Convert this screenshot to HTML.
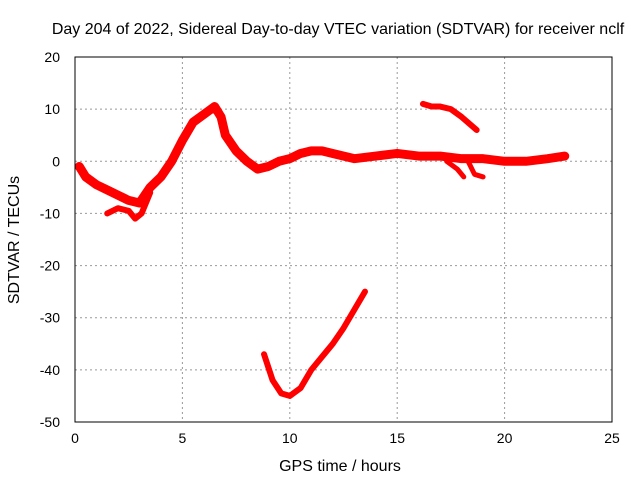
<!DOCTYPE html>
<html><head><meta charset="utf-8"><style>
body{margin:0;background:#fff}
svg{display:block;font-family:"Liberation Sans",sans-serif}
</style></head><body>
<svg id="c" width="640" height="480">
<text x="338" y="34" text-anchor="middle" font-size="16">Day 204 of 2022, Sidereal Day-to-day VTEC variation (SDTVAR) for receiver nclf</text>
<text x="340" y="471" text-anchor="middle" font-size="16">GPS time / hours</text>
<text x="19" y="240" text-anchor="middle" font-size="16" transform="rotate(-90 19 240)">SDTVAR / TECUs</text>
<g id="grid"></g><g id="data"></g>
<rect x="75" y="57" width="537" height="365" fill="none" stroke="#000"/>
</svg>
<script>
const xTicks=[0,5,10,15,20,25];
const yTicks=[20,10,0,-10,-20,-30,-40,-50];
const mainH=[0.2,0.5,1,1.5,2,2.5,3,3.5,4,4.5,5,5.5,6,6.5,6.8,7,7.5,8,8.5,9,9.5,10,10.5,11,11.5,12,13,14,15,16,17,18,19,20,21,22,22.8];
const mainV=[-1,-3,-4.5,-5.5,-6.5,-7.5,-8,-5,-3,0,4,7.5,9,10.5,8.5,5,2,0,-1.5,-1,0,0.5,1.5,2,2,1.5,0.5,1,1.5,1,1,0.5,0.5,0,0,0.5,1];
const lowH=[1.5,2,2.5,2.8,3.1,3.5];
const lowV=[-10,-9,-9.5,-11,-10,-6];
const br1H=[17.3,17.8,18.1];const br1V=[0,-1.5,-3];
const br2H=[18.3,18.6,19];const br2V=[0,-2.5,-3];
const topH=[16.2,16.6,17,17.5,18,18.7];const topV=[11,10.5,10.5,10,8.5,6];
const botH=[8.8,9,9.2,9.6,10,10.5,11,11.5,12,12.5,13,13.5];
const botV=[-37,-39.5,-42,-44.5,-45,-43.5,-40,-37.5,-35,-32,-28.5,-25];
const X=h=>75+h*537/25, Y=v=>57+(20-v)*365/70;
const ns="http://www.w3.org/2000/svg";
const g=document.getElementById('grid'),d=document.getElementById('data');
xTicks.forEach(t=>{
 const l=document.createElementNS(ns,'line');
 
 
 l.setAttribute('x1',X(t));l.setAttribute('x2',X(t));l.setAttribute('y1',57);l.setAttribute('y2',422);
 l.setAttribute('stroke','#999');l.setAttribute('stroke-dasharray','2,3');g.appendChild(l);
 const s=document.createElementNS(ns,'text');
 
 
 s.setAttribute('x',X(t));s.setAttribute('y',443);s.setAttribute('text-anchor','middle');s.setAttribute('font-size','14');s.textContent=t;g.appendChild(s);
});
yTicks.forEach(t=>{
 const l=document.createElementNS(ns,'line');
 
 
 l.setAttribute('x1',75);l.setAttribute('x2',612);l.setAttribute('y1',Y(t));l.setAttribute('y2',Y(t));
 l.setAttribute('stroke','#999');l.setAttribute('stroke-dasharray','2,3');g.appendChild(l);
 const s=document.createElementNS(ns,'text');
 
 
 s.setAttribute('x',60);s.setAttribute('y',Y(t)+5);s.setAttribute('text-anchor','end');s.setAttribute('font-size','14');s.textContent=t;g.appendChild(s);
});
function series(H,V,w,name){
 const p=document.createElementNS(ns,'polyline');
 
 
 p.setAttribute('points',H.map((h,i)=>X(h)+','+Y(V[i])).join(' '));
 p.setAttribute('fill','none');p.setAttribute('stroke','#f00');p.setAttribute('stroke-width',w);
 p.setAttribute('stroke-linejoin','round');p.setAttribute('stroke-linecap','round');d.appendChild(p);
}
series(mainH,mainV,9,'main-series');
series(lowH,lowV,6,'low-branch-series');
series(br1H,br1V,5,'branch-series-1');
series(br2H,br2V,5,'branch-series-2');
series(topH,topV,6,'top-segment-series');
series(botH,botV,6,'bottom-curve-series');
</script>
</body></html>
